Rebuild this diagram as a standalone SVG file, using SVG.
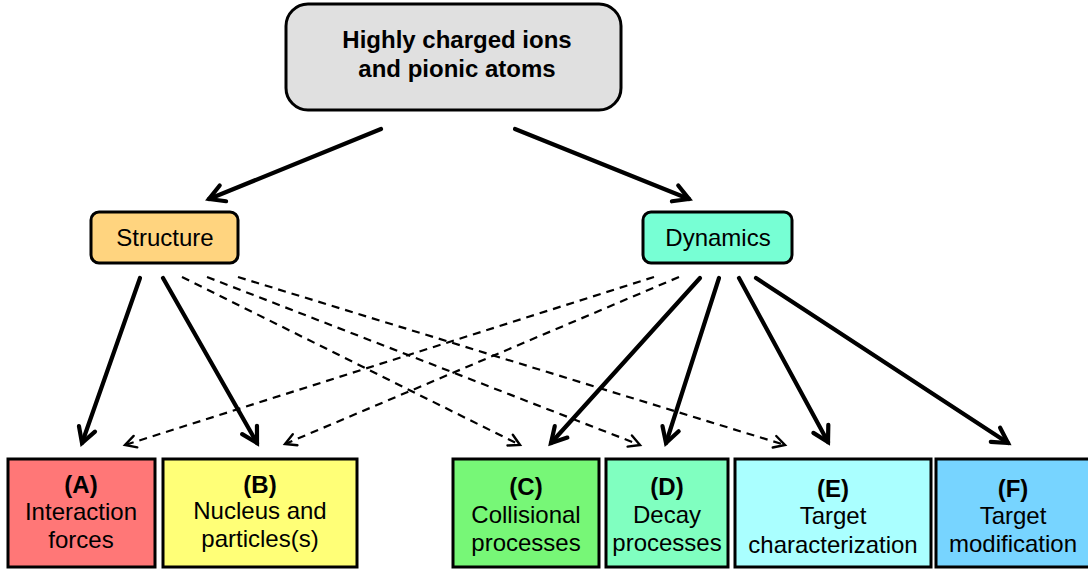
<svg xmlns="http://www.w3.org/2000/svg" width="1088" height="571" viewBox="0 0 1088 571">
<defs>
<style>
.box{stroke:#000;stroke-width:3}
.t{font-family:"Liberation Sans",Arial,sans-serif;font-size:24px;text-anchor:middle;fill:#000}
.b{font-weight:bold}
.solid{stroke:#000;stroke-width:4.2;fill:none;stroke-linecap:round}
.dash{stroke:#000;stroke-width:2.2;fill:none;stroke-dasharray:8 6}
</style>
<marker id="ah" markerUnits="userSpaceOnUse" orient="auto" markerWidth="30" markerHeight="30" refX="0" refY="0" viewBox="-20 -15 25 30" overflow="visible">
<path d="M -15 -8.5 L 0 0 L -15 8.5" fill="none" stroke="#000" stroke-width="4.2" stroke-linecap="round" stroke-linejoin="miter"/>
</marker>
<marker id="ahd" markerUnits="userSpaceOnUse" orient="auto" markerWidth="20" markerHeight="20" refX="0" refY="0" viewBox="-14 -10 18 20" overflow="visible">
<path d="M -11 -6 L 0 0 L -11 6" fill="none" stroke="#000" stroke-width="2.4" stroke-linecap="round"/>
</marker>
</defs>
<rect width="1088" height="571" fill="#fff"/>
<g id="connectors">
<line class="solid" x1="381" y1="129" x2="209" y2="199" marker-end="url(#ah)"/>
<line class="solid" x1="515" y1="129" x2="689" y2="199" marker-end="url(#ah)"/>
<line class="solid" x1="140" y1="278" x2="82" y2="443" marker-end="url(#ah)"/>
<line class="solid" x1="163" y1="278" x2="257" y2="443" marker-end="url(#ah)"/>
<line class="dash" x1="182" y1="277" x2="520" y2="445" marker-end="url(#ahd)"/>
<line class="dash" x1="207" y1="277" x2="640" y2="445" marker-end="url(#ahd)"/>
<line class="dash" x1="238" y1="277" x2="785" y2="445" marker-end="url(#ahd)"/>
<line class="dash" x1="654" y1="277" x2="125" y2="445" marker-end="url(#ahd)"/>
<line class="dash" x1="679" y1="277" x2="285" y2="444" marker-end="url(#ahd)"/>
<line class="solid" x1="700" y1="278" x2="551" y2="443" marker-end="url(#ah)"/>
<line class="solid" x1="719" y1="278" x2="666" y2="443" marker-end="url(#ah)"/>
<line class="solid" x1="739" y1="278" x2="828" y2="442" marker-end="url(#ah)"/>
<line class="solid" x1="756" y1="278" x2="1008" y2="443" marker-end="url(#ah)"/>
</g>
<g id="top">
<rect class="box" x="286" y="4" width="335" height="106" rx="22" fill="#e0e0e0"/>
<text class="t b" x="457" y="48">Highly charged ions</text>
<text class="t b" x="457" y="77">and pionic atoms</text>
</g>
<g id="structure">
<rect class="box" x="91" y="212" width="147" height="51" rx="8" fill="#ffd47f"/>
<text class="t" x="165" y="246">Structure</text>
</g>
<g id="dynamics">
<rect class="box" x="643" y="212" width="149" height="51" rx="8" fill="#77ffd4"/>
<text class="t" x="718" y="246">Dynamics</text>
</g>
<g id="A">
<rect class="box" x="8" y="459" width="147" height="108" fill="#ff7777"/>
<text class="t b" x="81" y="493">(A)</text>
<text class="t" x="81" y="520">Interaction</text>
<text class="t" x="81" y="548">forces</text>
</g>
<g id="B">
<rect class="box" x="163" y="459" width="194" height="108" fill="#ffff77"/>
<text class="t b" x="260" y="493">(B)</text>
<text class="t" x="260" y="519">Nucleus and</text>
<text class="t" x="260" y="547">particles(s)</text>
</g>
<g id="C">
<rect class="box" x="453" y="459" width="146" height="108" fill="#77f777"/>
<text class="t b" x="526" y="495">(C)</text>
<text class="t" x="526" y="523">Collisional</text>
<text class="t" x="526" y="551">processes</text>
</g>
<g id="D">
<rect class="box" x="606" y="459" width="122" height="108" fill="#80ffc0"/>
<text class="t b" x="667" y="495">(D)</text>
<text class="t" x="667" y="523">Decay</text>
<text class="t" x="667" y="551">processes</text>
</g>
<g id="E">
<rect class="box" x="735" y="459" width="196" height="108" fill="#aaffff"/>
<text class="t b" x="833" y="497">(E)</text>
<text class="t" x="833" y="524">Target</text>
<text class="t" x="833" y="553">characterization</text>
</g>
<g id="F">
<rect class="box" x="936" y="459" width="156" height="108" fill="#77d4ff"/>
<text class="t b" x="1013" y="497">(F)</text>
<text class="t" x="1013" y="524">Target</text>
<text class="t" x="1013" y="552">modification</text>
</g>
</svg>
